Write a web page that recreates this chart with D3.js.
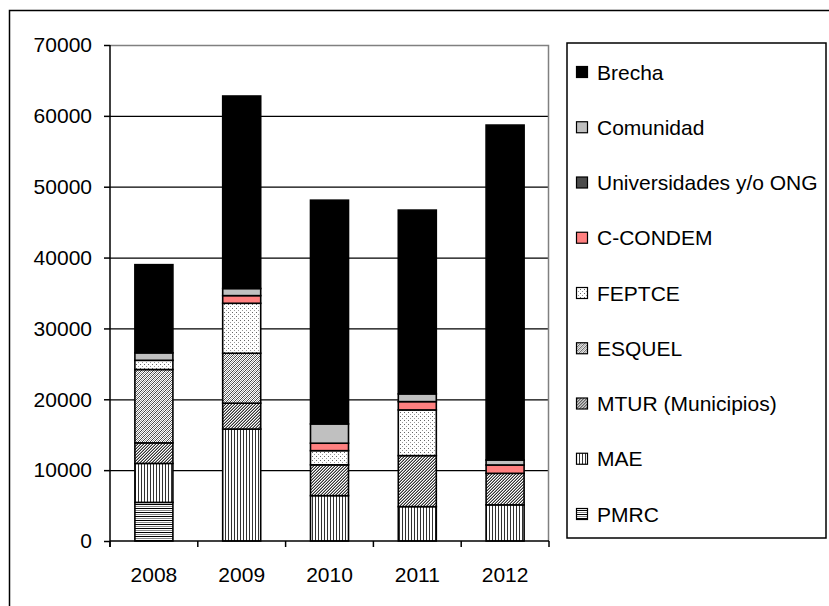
<!DOCTYPE html>
<html>
<head>
<meta charset="utf-8">
<script src="https://cdn.jsdelivr.net/npm/d3@7"></script>
<style>
  body { margin: 0; background: #fff; }
  text { font-family: Arial, 'Liberation Sans', sans-serif; fill: #000; }
</style>
</head>
<body>
<div class="chart"></div>
<script>
// data
const years = ['2008', '2009', '2010', '2011', '2012'];
const pmrc = [5450, 0, 0, 0, 0];
const mae = [5500, 15800, 6400, 4850, 5100];
const mtur = [2900, 3650, 4350, 7200, 4450];
const esquel = [10350, 7050, 0, 0, 0];
const feptce = [1300, 7050, 2000, 6450, 0];
const ccondem = [0, 1080, 1050, 1170, 1180];
const univ = [0, 0, 0, 0, 0];
const comunidad = [1050, 1000, 2720, 1090, 700];
const brecha = [12450, 27170, 31580, 25940, 47270];
const yTicks = [0, 10000, 20000, 30000, 40000, 50000, 60000, 70000];

// bottom to top stacking order
const series = [
  { key: 'PMRC', values: pmrc, fill: 'url(#pmrc)' },
  { key: 'MAE', values: mae, fill: 'url(#mae)' },
  { key: 'MTUR (Municipios)', values: mtur, fill: 'url(#mtur)' },
  { key: 'ESQUEL', values: esquel, fill: 'url(#esquel)' },
  { key: 'FEPTCE', values: feptce, fill: 'url(#feptce)' },
  { key: 'C-CONDEM', values: ccondem, fill: '#ff8080' },
  { key: 'Universidades y/o ONG', values: univ, fill: 'url(#univ)' },
  { key: 'Comunidad', values: comunidad, fill: '#c0c0c0' },
  { key: 'Brecha', values: brecha, fill: '#000' },
];

const table = years.map((y, i) => {
  const row = { year: y };
  series.forEach((s) => (row[s.key] = s.values[i]));
  return row;
});

// 1. svg + plot area
const W = 829, H = 606;
const plot = { left: 110, top: 45, right: 549, bottom: 541 };
const fontSize = 21;

const svg = d3
  .select('.chart')
  .append('svg')
  .attr('width', W)
  .attr('height', H);

// patterns for the hatched series
const defs = svg.append('defs');

function pattern(id, w, h, bg, dots) {
  const p = defs
    .append('pattern')
    .attr('id', id)
    .attr('patternUnits', 'userSpaceOnUse')
    .attr('width', w)
    .attr('height', h);
  p.append('rect').attr('width', w).attr('height', h).attr('fill', bg);
  // dots = [x, y, w, h, colour]
  dots.forEach((d) => {
    p.append('rect')
      .attr('x', d[0]).attr('y', d[1])
      .attr('width', d[2]).attr('height', d[3])
      .attr('fill', d[4]);
  });
}

pattern('pmrc', 4, 4, '#fff', [[0, 0, 4, 1, '#000'], [0, 2, 4, 1, '#888']]);
pattern('mae', 3, 3, '#fff', [[0, 0, 1, 3, '#333']]);
pattern('mtur', 3, 3, '#fff', [
  [0, 2, 1, 1, '#333'], [1, 1, 1, 1, '#333'], [2, 0, 1, 1, '#333'],
  [0, 1, 1, 1, '#999'], [1, 0, 1, 1, '#999'], [2, 2, 1, 1, '#999'],
]);
pattern('esquel', 4, 4, '#fff', [
  [0, 3, 1, 1, '#444'], [1, 2, 1, 1, '#444'], [2, 1, 1, 1, '#444'], [3, 0, 1, 1, '#444'],
  [0, 1, 1, 1, '#999'], [1, 0, 1, 1, '#999'], [2, 3, 1, 1, '#999'], [3, 2, 1, 1, '#999'],
]);
pattern('feptce', 4, 4, '#fff', [[0, 0, 1, 1, '#666'], [2, 2, 1, 1, '#999']]);
pattern('univ', 2, 2, '#777', [[0, 0, 1, 1, '#222'], [1, 1, 1, 1, '#222']]);

// outer chart border (runs off the page right/bottom like the original)
svg.append('rect')
  .attr('x', 9.5).attr('y', 10.5)
  .attr('width', 900).attr('height', 700)
  .attr('fill', 'none').attr('stroke', '#000').attr('stroke-width', 1.5);

// 2. scales
const xScale = d3.scaleBand().domain(years).range([plot.left, plot.right]);
const yScale = d3.scaleLinear().domain([0, 70000]).range([plot.bottom, plot.top]);
const barW = xScale.bandwidth() * 0.433;

// gridlines
const g = svg.append('g');
g.selectAll('.grid')
  .data(yTicks.filter((t) => t > 0 && t < 70000))
  .join('line')
  .attr('class', 'grid')
  .attr('x1', plot.left).attr('x2', plot.right)
  .attr('y1', (d) => yScale(d) + 0.5).attr('y2', (d) => yScale(d) + 0.5)
  .attr('stroke', '#000').attr('stroke-width', 1.2);

// plot area border, grey on top and right
g.append('path')
  .attr('d', `M${plot.left},${plot.top + 0.5}H${plot.right - 0.5}V${plot.bottom}`)
  .attr('fill', 'none').attr('stroke', '#808080').attr('stroke-width', 1.5);

// 3. stacked bars
const stack = d3.stack().keys(series.map((s) => s.key));
const layers = stack(table);

g.selectAll('.layer')
  .data(layers)
  .join('g')
  .attr('class', 'layer')
  .attr('fill', (d, i) => series[i].fill)
  .selectAll('rect')
  .data((d) => d.filter((v) => v[1] - v[0] > 0))
  .join('rect')
  .attr('x', (d) => xScale(d.data.year) + (xScale.bandwidth() - barW) / 2)
  .attr('y', (d) => yScale(d[1]))
  .attr('width', barW)
  .attr('height', (d) => yScale(d[0]) - yScale(d[1]))
  .attr('stroke', '#000')
  .attr('stroke-width', 1.6);

// 4. axes
const yAxis = d3.axisLeft(yScale).tickValues(yTicks).tickSize(6).tickPadding(12).tickFormat(d3.format('d'));
const yAxisGroup = svg.append('g')
  .attr('class', 'y-axis axis')
  .attr('transform', 'translate(' + plot.left + ',0)')
  .call(yAxis);
yAxisGroup.select('.domain').attr('d', `M0,${plot.top}V${plot.bottom + 6}`);

const xAxis = d3.axisBottom(xScale).tickSize(0).tickPadding(26);
const xAxisGroup = svg.append('g')
  .attr('class', 'x-axis axis')
  .attr('transform', 'translate(0,' + plot.bottom + ')')
  .call(xAxis);
xAxisGroup.select('.domain').attr('d', `M${plot.left},0H${plot.right}`);

// tick marks between categories
xAxisGroup.selectAll('.sep')
  .data(d3.range(years.length + 1))
  .join('line')
  .attr('class', 'sep')
  .attr('x1', (i) => plot.left + i * xScale.step())
  .attr('x2', (i) => plot.left + i * xScale.step())
  .attr('y1', 0).attr('y2', 6)
  .attr('stroke', '#000').attr('stroke-width', 1.5);

svg.selectAll('.axis .domain').attr('stroke', '#000').attr('stroke-width', 1.5);
svg.selectAll('.axis .tick line').attr('stroke', '#000').attr('stroke-width', 1.5);
svg.selectAll('.axis text').attr('font-size', fontSize).attr('fill', '#000');

// 5. legend, top item = Brecha
const legend = svg.append('g').attr('transform', 'translate(567,43)');
legend.append('rect')
  .attr('width', 259).attr('height', 495)
  .attr('fill', '#fff').attr('stroke', '#000').attr('stroke-width', 1.5);

const items = legend.selectAll('.item')
  .data(series.slice().reverse())
  .join('g')
  .attr('class', 'item')
  .attr('transform', (d, i) => 'translate(9,' + (29 + i * 55.25) + ')');

items.append('rect')
  .attr('x', 0.5).attr('y', -5.5)
  .attr('width', 11).attr('height', 11)
  .attr('fill', (d) => d.fill)
  .attr('stroke', '#000').attr('stroke-width', 1.2);

items.append('text')
  .attr('x', 21)
  .attr('dy', '0.36em')
  .attr('font-size', fontSize)
  .text((d) => d.key);
</script>
</body>
</html>
